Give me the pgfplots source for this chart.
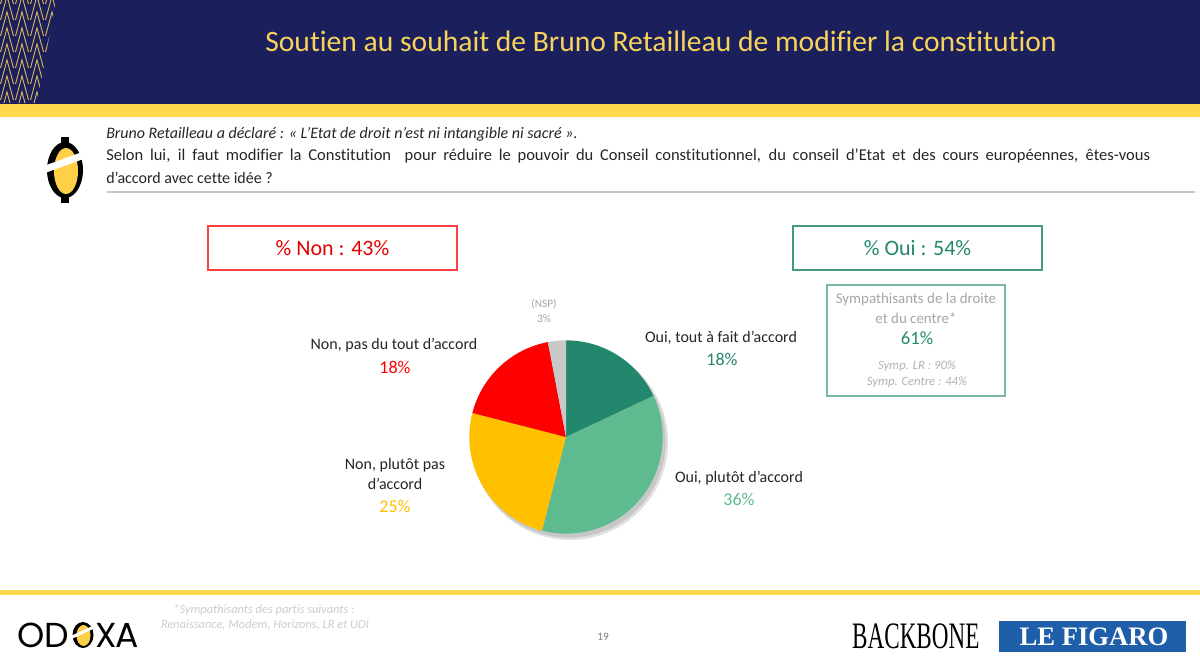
\documentclass[border=0pt]{standalone}
\usepackage{pgfplots}
\pgfplotsset{compat=1.18}
\usepackage{pgfplotstable}
\usepackage{fontspec}
\setmainfont{Carlito}[Ligatures=NoCommon]
\newfontfamily\seriffont{Liberation Serif}
\newfontfamily\logofont{Poppins}

\definecolor{navy}{HTML}{1B1F5C}
\definecolor{band}{HTML}{FFD84F}
\definecolor{titley}{HTML}{F6D35A}
\definecolor{cOui1}{HTML}{23876E}
\definecolor{cOui2}{HTML}{5DBB8F}
\definecolor{cNon2}{HTML}{FFC000}
\definecolor{cNon1}{HTML}{FF0000}
\definecolor{cNSP}{HTML}{C8C8C8}
\definecolor{txt}{HTML}{262626}
\definecolor{ltgrey}{HTML}{A6A6A6}
\definecolor{figblue}{HTML}{1F5FAA}

\newcommand{\fsz}[1]{\fontsize{#1pt}{#1pt}\selectfont}

\pgfplotstableread{
label value color
OuiTout 18 cOui1
OuiPlutot 36 cOui2
NonPlutot 25 cNon2
NonPasDuTout 18 cNon1
NSP 3 cNSP
}\piedata

\def\pieR{72.5pt}

\begin{document}
\begin{tikzpicture}
\begin{scope}[x=0.75pt,y=-0.75pt,yshift=496.5pt]
% background
\fill[white] (0,0) rectangle (1200,662);
% banner
\fill[navy] (0,0) rectangle (1200,104);
\fill[band] (0,104) rectangle (1200,117);
\begin{scope}
\clip (0,0) -- (56,0) -- (37,103) -- (0,103) -- cycle;
\foreach \cx in {-8,7,22,37,52}{
  \foreach \cy in {-20,-4,12,28,44,60,76,92}{
    \draw[titley, line width=0.7pt, opacity=0.85] (\cx-6.5,\cy+24) -- (\cx,\cy) -- (\cx+6.5,\cy+24);
  }
}
\end{scope}
\node[anchor=base, text=titley, font=\fsz{22.2}] at (661,52) {Soutien au souhait de Bruno Retailleau de modifier la constitution};

% question logo
\fill[black] (65,170) ellipse [x radius=18, y radius=28];
\fill[black] (61,137) rectangle (69,145);
\fill[black] (61,195) rectangle (69,203);
\fill[band!90!orange] (66,171) ellipse [x radius=12, y radius=23];
\fill[white, rotate around={20:(65,162)}] (40,158.5) rectangle (90,165.5);

% question
\node[anchor=base west, inner xsep=0pt, text=txt, font=\fsz{12}\itshape] at (106,139) {Bruno Retailleau a déclaré : «~L’Etat de droit n’est ni intangible ni sacré~».};
\node[anchor=base west, inner xsep=0pt, text=txt, font=\fsz{12.4}] at (106,161) {\makebox[783pt][s]{Selon lui, il faut modifier la Constitution \ pour réduire le pouvoir du Conseil constitutionnel, du conseil d’Etat et des cours européennes, êtes-vous}};
\node[anchor=base west, inner xsep=0pt, text=txt, font=\fsz{12}] at (106,183) {d’accord avec cette idée ?};
\draw[black!22, line width=1.1pt] (107,192) -- (1195,192);

% boxes
\draw[red!75!white, line width=1pt] (208,226) rectangle (457,270);
\node[text=red!90!black, font=\fsz{16.5}] at (332.5,248) {\% Non : 43\%};
\draw[cOui1!85!white, line width=1pt] (793,226) rectangle (1042,270);
\node[text=cOui1, font=\fsz{16.5}] at (917.5,248) {\% Oui : 54\%};
\draw[cOui1!60!white, line width=1pt] (827,285) rectangle (1005,396);
\node[text=ltgrey, font=\fsz{11.2}] at (916,300) {Sympathisants de la droite};
\node[text=ltgrey, font=\fsz{11.2}] at (916,318) {et du centre*};
\node[text=cOui1, font=\fsz{14}] at (917,338) {61\%};
\node[text=black!30, font=\fsz{9.5}\itshape] at (917,366) {Symp. LR : 90\%};
\node[text=black!30, font=\fsz{9.5}\itshape] at (917,382) {Symp. Centre : 44\%};

% pie labels
\node[text=ltgrey, font=\fsz{8.5}] at (544,304) {(NSP)};
\node[text=ltgrey, font=\fsz{8.5}] at (544,319) {3\%};
\node[text=txt, font=\fsz{12}] at (721,338) {Oui, tout à fait d’accord};
\node[text=cOui1, font=\fsz{13.5}] at (722,359) {18\%};
\node[text=txt, font=\fsz{12}] at (394,345) {Non, pas du tout d’accord};
\node[text=cNon1, font=\fsz{13.5}] at (395,367) {18\%};
\node[text=txt, font=\fsz{12}] at (395,465) {Non, plutôt pas};
\node[text=txt, font=\fsz{12}] at (395,484) {d’accord};
\node[text=cNon2, font=\fsz{13.5}] at (395,506) {25\%};
\node[text=txt, font=\fsz{12}] at (739,478) {Oui, plutôt d’accord};
\node[text=cOui2, font=\fsz{13.5}] at (739,499) {36\%};

% footer
\fill[band] (0,590) rectangle (1200,595);
\node[text=black!20, font=\fsz{9.3}\itshape] at (264,610) {*Sympathisants des partis suivants :};
\node[text=black!20, font=\fsz{9.3}\itshape] at (265,625) {Renaissance, Modem, Horizons, LR et UDI};
\node[text=black!50, font=\fsz{8.5}] at (603,637) {19};
% ODOXA
\node[anchor=base west, inner sep=0pt, font=\logofont\fsz{26}] at (17,647) {O};
\node[anchor=base west, inner sep=0pt, font=\logofont\fsz{26}] at (44,647) {D};
\fill[black] (83,635) ellipse [x radius=10.5, y radius=13];
\fill[band!90!orange] (83.5,635.5) ellipse [x radius=7, y radius=10.5];
\fill[white, rotate around={25:(83,632)}] (70,630.5) rectangle (96,633.5);
\node[anchor=base west, inner sep=0pt, font=\logofont\fsz{26}] at (95,647) {X};
\node[anchor=base west, inner sep=0pt, font=\logofont\fsz{26}] at (115,647) {A};
% BACKBONE
\node[anchor=base west, inner sep=0pt, font=\seriffont\fsz{28}, xscale=0.62] at (852,648) {BACKBONE};
% LE FIGARO
\fill[figblue] (999,621) rectangle (1186,652);
\node[text=white, font=\seriffont\bfseries\fsz{20}] at (1094,637) {LE FIGARO};
\end{scope}

\begin{axis}[at={(0,0)}, anchor=origin, x=0.75pt, y=0.75pt, scale only axis,
  xmin=0, xmax=1200, ymin=0, ymax=662, hide axis, clip=false]
\fill[black!12] (axis cs:570,220) circle[radius=73.5pt];
\fill[black!22] (axis cs:569,221) circle[radius=72.5pt];
\gdef\cum{0}
\pgfplotsinvokeforeach{0,...,4}{%
  \pgfplotstablegetelem{#1}{value}\of\piedata
  \let\v\pgfplotsretval
  \pgfplotstablegetelem{#1}{color}\of\piedata
  \let\c\pgfplotsretval
  \pgfmathsetmacro\sa{90-3.6*\cum}%
  \pgfmathsetmacro\ea{90-3.6*(\cum+\v)}%
  \pgfmathsetmacro\cumnew{\cum+\v}%
  \global\let\cum\cumnew
  \edef\slice{\noexpand\fill[\c] (axis cs:566,225) -- ++(\sa:\pieR) arc[start angle=\sa, end angle=\ea, radius=\pieR] -- cycle;}%
  \slice
}
\end{axis}
\end{tikzpicture}
\end{document}
